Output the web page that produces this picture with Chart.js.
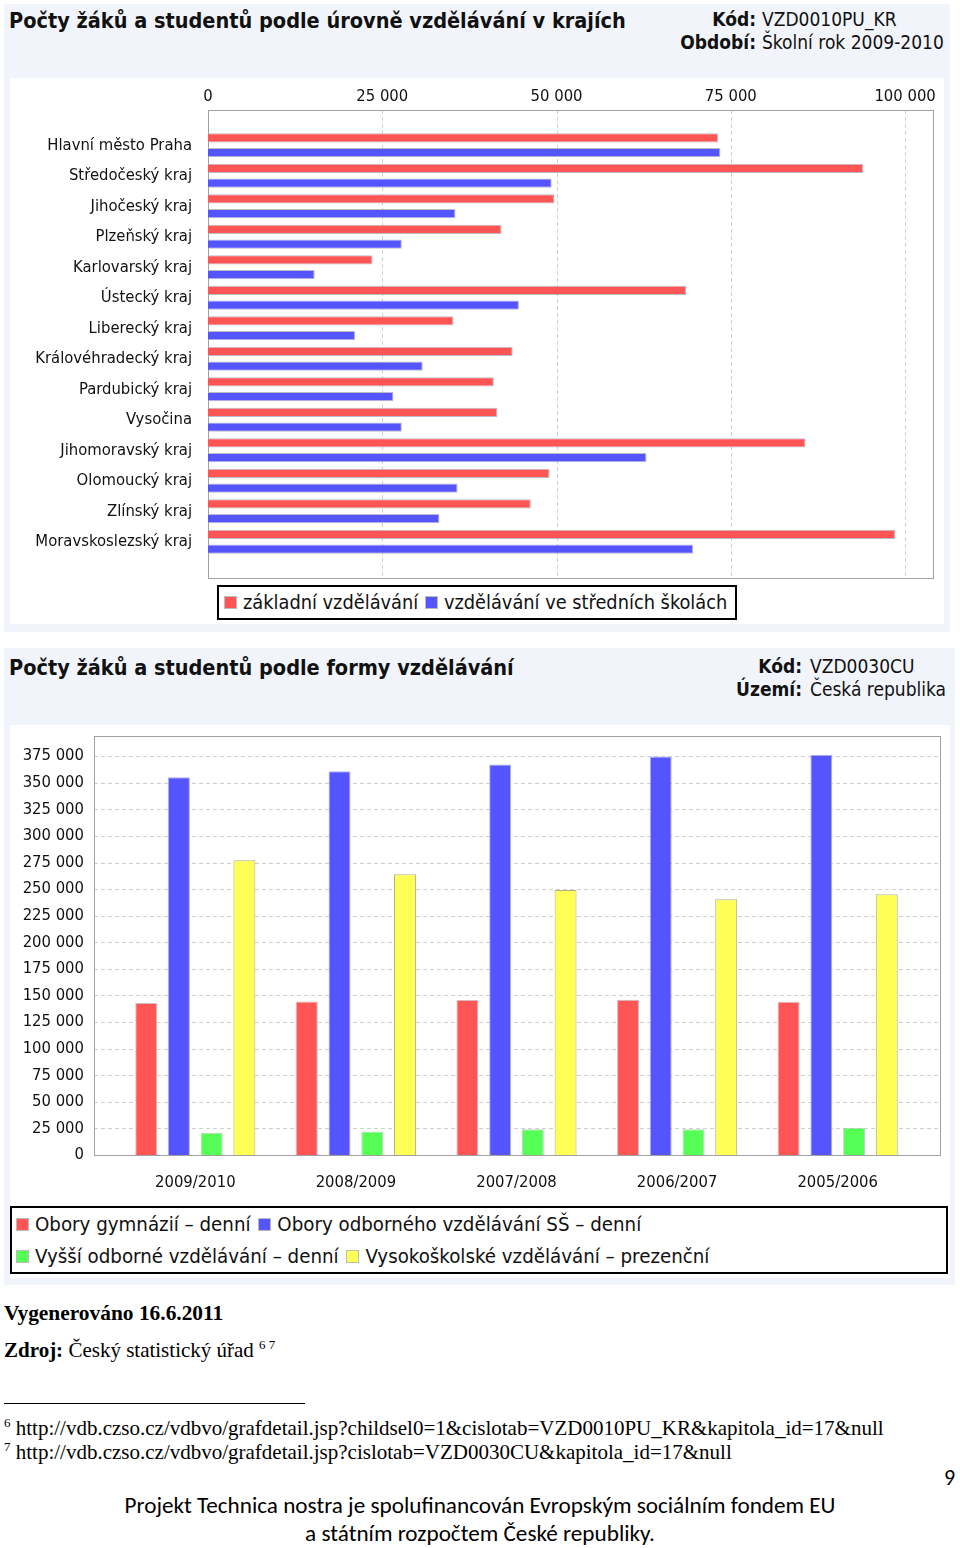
<!DOCTYPE html>
<html lang="cs">
<head>
<meta charset="utf-8">
<title>Počty žáků a studentů</title>
<script src="https://cdn.jsdelivr.net/npm/chart.js@4.4.1/dist/chart.umd.min.js"></script>
<style>
  body { margin: 0; width: 960px; height: 1548px; position: relative; background: #fff; overflow: hidden; }
  .abs { position: absolute; }
  .panel { background: #f1f5fb; }
  .inner { background: #fff; }
  .ui { font-family: "DejaVu Sans Condensed", "DejaVu Sans", sans-serif; color: #111; white-space: nowrap; }
  .title { font-weight: bold; font-size: 21.5px; }
  .meta { font-size: 19px; line-height: 23px; }
  .meta b { font-weight: bold; }
  .legend { border: 2px solid #000; background: #fff; font-size: 20.3px; box-sizing: border-box; }
  .legend span.sw { display: inline-block; width: 11px; height: 11px; border: 1px solid #bbb; margin-right: 6px; vertical-align: 0px; }
  .serif { font-family: "Liberation Serif", "Times New Roman", serif; color: #000; white-space: nowrap; }
  .foot { font-family: Carlito, "Liberation Sans", sans-serif; color: #000; white-space: nowrap; }
  sup { font-size: 13px; }
</style>
</head>
<body>

<!-- graf 1 -->
<div class="abs panel" style="left:4px;top:4px;width:946px;height:628px;"></div>
<div class="abs inner" style="left:10px;top:78px;width:934px;height:546px;"></div>
<div class="abs ui title" style="left:9px;top:8px;">Počty žáků a studentů podle úrovně vzdělávání v krajích</div>
<div class="abs ui meta" style="left:600px;top:8px;width:156px;text-align:right;"><b>Kód:</b><br><b>Období:</b></div>
<div class="abs ui meta" style="left:762px;top:8px;">VZD0010PU_KR<br>Školní rok 2009-2010</div>
<canvas id="krajeChart" class="abs" width="934" height="502" style="left:10px;top:78px;"></canvas>
<div class="abs ui legend" style="left:217px;top:585px;width:520px;height:35px;line-height:31px;padding-left:5px;font-size:19.8px;">
  <span class="sw" style="background:rgb(255,85,85)"></span>základní vzdělávání
  <span class="sw" style="background:rgb(85,85,255);margin-left:1px"></span>vzdělávání ve středních školách
</div>

<!-- graf 2 -->
<div class="abs panel" style="left:4px;top:648px;width:951px;height:637px;"></div>
<div class="abs inner" style="left:10px;top:725px;width:940px;height:553px;"></div>
<div class="abs ui title" style="left:9px;top:655px;">Počty žáků a studentů podle formy vzdělávání</div>
<div class="abs ui meta" style="left:650px;top:655px;width:152px;text-align:right;"><b>Kód:</b><br><b>Území:</b></div>
<div class="abs ui meta" style="left:810px;top:655px;">VZD0030CU<br>Česká republika</div>
<canvas id="formyChart" class="abs" width="940" height="470" style="left:10px;top:725px;"></canvas>
<div class="abs ui legend" style="left:10px;top:1206px;width:938px;height:68px;padding-left:4px;padding-top:0px;line-height:32px;">
  <div><span class="sw" style="background:rgb(255,85,85)"></span>Obory gymnázií – denní
  <span class="sw" style="background:rgb(85,85,255);margin-left:2px"></span>Obory odborného vzdělávání SŠ – denní</div>
  <div><span class="sw" style="background:rgb(85,255,85)"></span>Vyšší odborné vzdělávání – denní
  <span class="sw" style="background:rgb(255,255,85);margin-left:2px"></span>Vysokoškolské vzdělávání – prezenční</div>
</div>

<!-- texty pod grafy -->
<div class="abs serif" style="left:4px;top:1301px;font-size:21.4px;font-weight:bold;">Vygenerováno 16.6.2011</div>
<div class="abs serif" style="left:4px;top:1337px;font-size:21px;"><b>Zdroj:</b> Český statistický úřad <sup>6 7</sup></div>
<div class="abs" style="left:4px;top:1403px;width:301px;height:1px;background:#000;"></div>
<div class="abs serif" style="left:4px;top:1415px;font-size:21px;"><sup>6</sup> http://vdb.czso.cz/vdbvo/grafdetail.jsp?childsel0=1&amp;cislotab=VZD0010PU_KR&amp;kapitola_id=17&amp;null</div>
<div class="abs serif" style="left:4px;top:1439px;font-size:21px;"><sup>7</sup> http://vdb.czso.cz/vdbvo/grafdetail.jsp?cislotab=VZD0030CU&amp;kapitola_id=17&amp;null</div>
<div class="abs foot" style="left:944px;top:1464px;font-size:22px;">9</div>
<div class="abs foot" style="left:0;width:960px;top:1491px;font-size:23.2px;text-align:center;line-height:28px;">
  Projekt Technica nostra je spolufinancován Evropským sociálním fondem EU<br>a státním rozpočtem České republiky.
</div>

<script>
// ---- data: graf 1 (kraje, školní rok 2009-2010)
const regions = ['Hlavní město Praha', 'Středočeský kraj', 'Jihočeský kraj', 'Plzeňský kraj',
  'Karlovarský kraj', 'Ústecký kraj', 'Liberecký kraj', 'Královéhradecký kraj', 'Pardubický kraj',
  'Vysočina', 'Jihomoravský kraj', 'Olomoucký kraj', 'Zlínský kraj', 'Moravskoslezský kraj'];
const zakladni = [73200, 94000, 49700, 42100, 23600, 68600, 35200, 43700, 41000, 41500, 85700, 49000, 46300, 98600];
const stredni = [73500, 49300, 35500, 27800, 15300, 44600, 21100, 30800, 26600, 27800, 62900, 35800, 33200, 69600];
const krajeTicks = [0, 25000, 50000, 75000, 100000];

// ---- data: graf 2 (formy vzdělávání)
const years = ['2009/2010', '2008/2009', '2007/2008', '2006/2007', '2005/2006'];
const gymnazia = [142900, 144400, 145700, 146000, 144100];
const odborne = [355300, 360900, 367200, 374700, 376300];
const vyssiOdborne = [21000, 22200, 24100, 24100, 25700];
const vysokoskolske = [277200, 264100, 249100, 240400, 245100];
const formyTicks = [0, 25000, 50000, 75000, 100000, 125000, 150000, 175000, 200000, 225000,
  250000, 275000, 300000, 325000, 350000, 375000];

const RED = 'rgb(255,85,85)', BLUE = 'rgb(85,85,255)', GREEN = 'rgb(85,255,85)', YELLOW = 'rgb(255,255,85)';
const FONT = '"DejaVu Sans Condensed", "DejaVu Sans", sans-serif';

function fmt(v) {
  return String(v).replace(/\B(?=(\d{3})+(?!\d))/g, ' ');
}

// osy si samy nepřidávají okraje, plochu řídí layout.padding
function noPad(s) {
  s.paddingLeft = 0; s.paddingRight = 0; s.paddingTop = 0; s.paddingBottom = 0;
}

// rámeček grafu a čárkovaná mřížka, rámeček je o kus širší než plocha dat
function framePlugin(id, valueAxis, pad, tickList) {
  return {
    id: id,
    beforeDatasetsDraw(chart) {
      const ctx = chart.ctx, a = chart.chartArea;
      const l = a.left - pad.l, r = a.right + pad.r, t = a.top - pad.t, b = a.bottom + pad.b;
      const scale = chart.scales[valueAxis];
      ctx.save();
      ctx.strokeStyle = '#cfcfcf';
      ctx.lineWidth = 1;
      ctx.setLineDash([4, 3]);
      tickList.forEach(v => {
        if (v === 0) return;
        const p = Math.round(scale.getPixelForValue(v)) + 0.5;
        ctx.beginPath();
        if (valueAxis === 'x') { ctx.moveTo(p, t); ctx.lineTo(p, b); }
        else { ctx.moveTo(l, p); ctx.lineTo(r, p); }
        ctx.stroke();
      });
      ctx.setLineDash([]);
      ctx.strokeStyle = '#a0a0a0';
      ctx.strokeRect(Math.round(l) + 0.5, Math.round(t) + 0.5, Math.round(r - l), Math.round(b - t));
      ctx.restore();
    }
  };
}

Chart.defaults.font.family = FONT;
Chart.defaults.color = '#111';

new Chart(document.getElementById('krajeChart'), {
  type: 'bar',
  data: {
    labels: regions,
    datasets: [
      { label: 'základní vzdělávání', data: zakladni, backgroundColor: RED },
      { label: 'vzdělávání ve středních školách', data: stredni, backgroundColor: BLUE }
    ]
  },
  options: {
    indexAxis: 'y',
    responsive: false,
    animation: false,
    devicePixelRatio: 1,
    datasets: { bar: { borderWidth: 1, borderColor: 'rgba(170,170,190,0.8)', barPercentage: 0.62, categoryPercentage: 0.98 } },
    layout: { padding: { top: 0, left: 0, right: 11, bottom: 23 } },
    scales: {
      x: {
        position: 'top',
        min: 0, max: 104000,
        grid: { display: false, drawTicks: false },
        border: { display: false },
        afterBuildTicks: s => { s.ticks = krajeTicks.map(v => ({ value: v })); },
        afterFit: s => { s.height = 52; noPad(s); },
        ticks: { font: { size: 16.5 }, padding: 23, maxRotation: 0, autoSkip: false, callback: v => fmt(v) }
      },
      y: {
        grid: { display: false, drawTicks: false },
        border: { display: false },
        afterFit: s => { s.width = 198; noPad(s); },
        ticks: { font: { size: 16.5 }, padding: 16, autoSkip: false }
      }
    },
    plugins: { legend: { display: false }, tooltip: { enabled: false } }
  },
  plugins: [framePlugin('ramecek1', 'x', { l: 0, r: 0, t: 20, b: 21 }, krajeTicks)]
});

new Chart(document.getElementById('formyChart'), {
  type: 'bar',
  data: {
    labels: years,
    datasets: [
      { label: 'Obory gymnázií – denní', data: gymnazia, backgroundColor: RED, borderColor: 'rgba(200,170,170,0.8)' },
      { label: 'Obory odborného vzdělávání SŠ – denní', data: odborne, backgroundColor: BLUE, borderColor: 'rgba(170,170,220,0.9)' },
      { label: 'Vyšší odborné vzdělávání – denní', data: vyssiOdborne, backgroundColor: GREEN, borderColor: 'rgba(170,200,170,0.8)' },
      { label: 'Vysokoškolské vzdělávání – prezenční', data: vysokoskolske, backgroundColor: YELLOW, borderColor: 'rgba(170,165,130,0.9)' }
    ]
  },
  options: {
    responsive: false,
    animation: false,
    devicePixelRatio: 1,
    datasets: { bar: { borderWidth: 1, barPercentage: 0.67, categoryPercentage: 0.815 } },
    layout: { padding: { top: 11, left: 0, right: 32, bottom: 0 } },
    scales: {
      x: {
        grid: { display: false, drawTicks: false },
        border: { display: false },
        afterFit: s => { s.height = 40; noPad(s); },
        ticks: { font: { size: 16.5 }, padding: 18, maxRotation: 0, autoSkip: false }
      },
      y: {
        min: 0, max: 394000,
        grid: { display: false, drawTicks: false },
        border: { display: false },
        afterBuildTicks: s => { s.ticks = formyTicks.map(v => ({ value: v })); },
        afterFit: s => { s.width = 105; noPad(s); },
        ticks: { font: { size: 16.5 }, padding: 31, autoSkip: false, callback: v => fmt(v) }
      }
    },
    plugins: { legend: { display: false }, tooltip: { enabled: false } }
  },
  plugins: [framePlugin('ramecek2', 'y', { l: 21, r: 22, t: 0, b: 0 }, formyTicks)]
});
</script>
</body>
</html>
